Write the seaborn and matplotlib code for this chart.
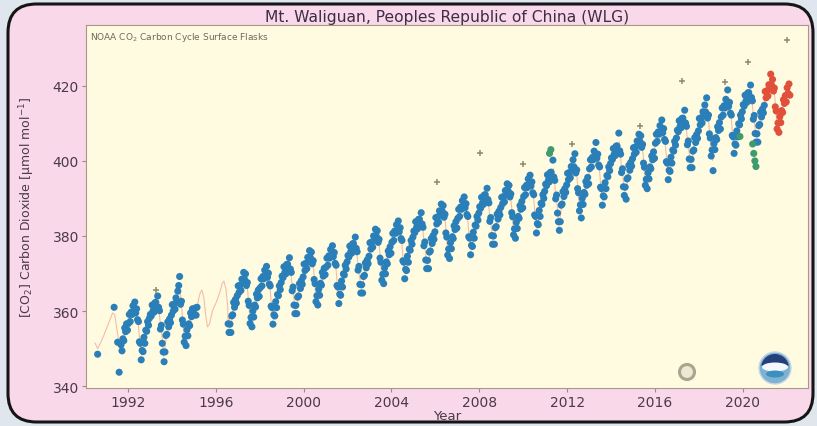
import numpy as np
import pandas as pd
import matplotlib
matplotlib.use("Agg")
import matplotlib.pyplot as plt
from matplotlib.patches import FancyBboxPatch, Circle, Wedge, Ellipse
from matplotlib.transforms import IdentityTransform
import seaborn as sns

# ---------------------------------------------------------------------------
# Mt. Waliguan (WLG) flask CO2, ppm.  Two samples per month (Jan..Dec);
# partial years give their first half-month slot in `start_slot`.
# ---------------------------------------------------------------------------
y1991 = [351.0, 349.4, 352.6, 352.1, 355.5, 354.5, 356.6, 354.9]
y1992 = [356.7, 359.1, 357.2, 359.7, 359.1, 361.4, 359.8, 362.4, 359.5, 360.6, 357.7, 357.2,
         351.8, 351.4, 347.0, 349.5, 349.2, 353.0, 351.4, 354.9, 354.6, 357.2, 356.2, 358.1]
y1993 = [359.1, 358.7, 361.6, 360.1, 359.7, 362.2, 362.3, 361.1, 364.0, 361.0, 360.1, 355.2,
         356.2, 351.4, 349.1, 346.5, 349.1, 353.5, 353.8, 357.1, 355.8, 357.9, 356.9, 358.9]
y1994 = [361.7, 360.0, 361.9, 360.5, 363.5, 362.4, 365.3, 366.8, 369.2, 361.8, 362.6, 357.6,
         356.5, 351.7, 353.3, 350.8, 355.0, 353.4, 356.6, 356.1, 359.5, 358.5, 360.6, 358.9]
y1995 = [359.2, 360.8, 358.9, 361.0]
y1996 = [356.6, 354.3, 356.5, 354.3, 358.7, 359.0, 362.3, 361.0, 363.1, 362.1, 364.1]
y1997 = [366.7, 365.0, 366.9, 365.5, 368.5, 367.4, 370.3, 368.4, 369.9, 366.8, 367.6, 362.6,
         361.5, 356.7, 358.3, 355.8, 360.0, 358.4, 361.6, 361.1, 364.5, 363.5, 365.6, 363.9]
y1998 = [366.2, 368.6, 366.7, 369.2, 368.6, 370.9, 369.3, 371.9, 369.0, 370.1, 367.2, 366.7,
         361.3, 360.9, 356.5, 359.0, 358.7, 362.5, 360.9, 364.4, 364.1, 366.7, 365.7, 367.6]
y1999 = [369.3, 368.9, 371.8, 370.3, 369.9, 372.4, 372.5, 371.3, 374.2, 371.2, 370.3, 365.4,
         366.4, 361.6, 359.3, 361.5, 359.3, 363.7, 364.0, 367.3, 366.0, 368.1, 367.1, 369.1]
y2000 = [372.5, 370.8, 372.7, 371.3, 374.3, 373.2, 376.1, 374.2, 375.7, 372.6, 373.4, 368.4,
         367.3, 362.5, 364.1, 361.6, 365.8, 364.2, 367.4, 366.9, 370.3, 369.3, 371.4, 369.7]
y2001 = [371.7, 374.1, 372.2, 374.7, 374.1, 376.4, 374.8, 377.4, 374.5, 375.6, 372.7, 372.2,
         366.8, 366.4, 362.0, 364.5, 364.2, 368.0, 366.4, 369.9, 369.6, 372.2, 371.2, 373.1]
y2002 = [374.8, 374.4, 377.3, 375.8, 375.4, 377.9, 378.0, 376.8, 379.7, 376.7, 375.8, 370.9,
         371.9, 367.1, 364.8, 367.0, 364.8, 369.2, 369.5, 372.8, 371.5, 373.6, 372.6, 374.6]
y2003 = [378.2, 376.5, 378.4, 377.0, 380.0, 378.9, 381.8, 379.9, 381.4, 378.3, 379.1, 374.1,
         373.0, 368.2, 369.8, 367.3, 371.5, 369.9, 373.1, 372.6, 376.0, 375.0, 377.1, 375.4]
y2004 = [378.3, 380.7, 378.8, 381.3, 380.7, 383.0, 381.4, 384.0, 381.1, 382.2, 379.3, 378.8,
         373.4, 373.0, 368.6, 371.1, 370.8, 374.6, 373.0, 376.5, 376.2, 378.8, 377.8, 379.7]
y2005 = [381.3, 380.9, 383.8, 382.3, 381.9, 384.4, 384.5, 383.3, 386.2, 383.2, 382.3, 377.4,
         378.4, 373.6, 371.3, 373.5, 371.3, 375.7, 376.0, 379.3, 378.0, 380.1, 379.1, 381.1]
y2006 = [384.9, 383.2, 385.1, 383.7, 386.7, 385.6, 388.5, 386.6, 388.1, 385.0, 385.8, 380.8,
         379.7, 374.9, 376.5, 374.0, 378.2, 376.6, 379.8, 379.3, 382.7, 381.7, 383.8, 382.1]
y2007 = [384.7, 387.1, 385.2, 387.7, 387.1, 389.4, 387.8, 390.4, 387.5, 388.6, 385.7, 385.2,
         379.8, 379.4, 375.0, 377.5, 377.2, 381.0, 379.4, 382.9, 382.6, 385.2, 384.2, 386.1]
y2008 = [387.8, 387.4, 390.3, 388.8, 388.4, 390.9, 391.0, 389.8, 392.7, 389.7, 388.8, 383.9,
         384.9, 380.1, 377.8, 380.0, 377.8, 382.2, 382.5, 385.8, 384.5, 386.6, 385.6, 387.6]
y2009 = [390.3, 388.6, 390.5, 389.1, 392.1, 391.0, 393.9, 392.0, 393.5, 390.4, 391.2, 386.2,
         385.1, 380.3, 381.9, 379.4, 383.6, 382.0, 385.2, 384.7, 388.1, 387.1, 389.2, 387.5]
y2010 = [390.5, 392.9, 391.0, 393.5, 392.9, 395.2, 393.6, 396.2, 393.3, 394.4, 391.5, 391.0,
         385.6, 385.2, 380.8, 383.3, 383.0, 386.8, 385.2, 388.7, 388.4, 391.0, 390.0, 391.9]
y2011 = [393.8, 393.4, 396.3, 394.8, 394.4, 396.9, 397.0, 395.8, 400.2, 395.7, 394.8, 389.9,
         390.9, 386.1, 383.8, 381.5, 383.8, 388.2, 388.5, 391.8, 390.5, 392.6, 391.6, 393.6]
y2012 = [396.7, 395.0, 396.9, 395.5, 398.5, 397.4, 400.3, 398.4, 401.9, 396.8, 397.6, 392.6,
         391.5, 386.7, 388.3, 384.8, 390.0, 388.4, 391.6, 391.1, 394.5, 393.5, 395.6, 393.9]
y2013 = [397.9, 400.3, 398.4, 400.9, 400.3, 402.6, 401.0, 404.9, 400.7, 401.8, 398.9, 398.4,
         393.0, 392.6, 388.2, 390.7, 390.4, 394.2, 392.6, 396.1, 395.8, 398.4, 397.4, 399.3]
y2014 = [400.8, 400.4, 403.3, 401.8, 401.4, 403.9, 404.0, 402.8, 407.4, 402.7, 401.8, 396.9,
         397.9, 393.1, 390.8, 393.0, 389.8, 395.2, 395.5, 398.8, 397.5, 399.6, 398.6, 400.6]
y2015 = [403.5, 401.8, 403.7, 402.3, 405.3, 404.2, 407.1, 405.2, 406.7, 403.6, 404.4, 399.4,
         398.3, 393.5, 395.1, 392.6, 396.8, 395.2, 398.4, 397.9, 401.3, 400.3, 402.4, 400.7]
y2016 = [404.7, 407.1, 405.2, 407.7, 407.1, 409.4, 407.8, 410.9, 407.5, 408.6, 405.7, 405.2,
         399.8, 399.4, 395.0, 397.5, 397.2, 401.0, 399.4, 402.9, 402.6, 405.2, 404.2, 406.1]
y2017 = [408.2, 407.8, 410.7, 409.2, 408.8, 411.3, 411.4, 410.2, 413.5, 410.1, 409.2, 404.3,
         405.3, 400.5, 398.2, 400.4, 398.2, 402.6, 402.9, 406.2, 404.9, 407.0, 406.0, 408.0]
y2018 = [411.3, 409.6, 411.5, 410.1, 413.1, 412.0, 414.9, 413.0, 416.8, 411.4, 412.2, 407.2,
         406.1, 401.3, 402.9, 397.4, 404.6, 403.0, 406.2, 405.7, 409.1, 408.1, 410.2, 408.5]
y2019 = [411.7, 414.1, 412.2, 414.7, 414.1, 416.4, 414.8, 418.9, 414.5, 415.6, 412.7, 412.2,
         406.8, 406.4, 402.0, 404.5, 404.2, 408.0, 406.4, 409.9, 409.6, 412.2, 411.2, 413.1]
y2020 = [415.0, 414.6, 417.5, 416.0, 415.6, 418.1, 418.2, 417.0, 420.2, 416.9, 416.0, 411.1,
         412.1, 407.3, 405.0, 407.2, 405.0, 409.4, 409.7, 413.0, 411.7, 413.8, 412.8, 414.8]
# preliminary samples
y2021 = [418.5, 416.8, 418.7, 417.3, 420.3, 419.2, 423.1, 420.2, 421.7, 418.6, 419.4, 414.4,
         413.3, 408.5, 410.1, 407.6, 411.8, 410.2, 413.4, 412.9, 416.3, 415.3, 417.4, 415.7]
y2022 = [419.5, 418.0, 420.5, 417.5]

start_slot = {1991: 16, 1996: 13}

# first, sparse samples of the record
early_dates = [1990.62, 1991.37, 1991.53, 1991.60]
early_vals = [348.5, 361.0, 351.7, 343.7]

# samples flagged by the selection algorithm
flag_dates = [2011.20, 2011.26, 2019.87, 2020.45, 2020.50, 2020.55, 2020.60]
flag_vals = [402.0, 403.0, 406.5, 404.5, 402.0, 400.0, 398.5]

# rejected samples
rej_dates = [1993.28, 2006.06, 2008.03, 2010.00, 2012.20, 2015.32, 2017.22, 2019.19, 2020.25, 2022.00]
rej_vals = [365.5, 394.4, 402.0, 399.2, 404.5, 409.4, 421.3, 421.0, 426.3, 432.1]

# smooth curve where no samples cover it (start of record and 1995-96 gap)
curve_early_dates = [1990.50, 1990.62, 1990.75, 1990.90, 1991.00, 1991.10, 1991.20, 1991.30, 1991.40, 1991.50, 1991.60, 1991.70]
curve_early_vals = [351.5, 350.0, 351.5, 353.5, 355.0, 356.5, 358.0, 359.5, 359.0, 355.0, 351.5, 351.0]
curve_gap_dates = [1995.04, 1995.12, 1995.21, 1995.29, 1995.37, 1995.46, 1995.54, 1995.62, 1995.71, 1995.79,
                   1995.87, 1995.96, 1996.04, 1996.12, 1996.21, 1996.29, 1996.37, 1996.46, 1996.54, 1996.62]
curve_gap_vals = [360.2, 361.5, 363.0, 364.8, 365.6, 363.5, 359.0, 355.8, 356.4, 358.6,
                  360.4, 361.5, 362.6, 364.0, 365.5, 367.3, 368.0, 366.0, 361.5, 358.6]

year_lists = {
    1991: y1991, 1992: y1992, 1993: y1993, 1994: y1994, 1995: y1995, 1996: y1996,
    1997: y1997, 1998: y1998, 1999: y1999, 2000: y2000, 2001: y2001, 2002: y2002,
    2003: y2003, 2004: y2004, 2005: y2005, 2006: y2006, 2007: y2007, 2008: y2008,
    2009: y2009, 2010: y2010, 2011: y2011, 2012: y2012, 2013: y2013, 2014: y2014,
    2015: y2015, 2016: y2016, 2017: y2017, 2018: y2018, 2019: y2019, 2020: y2020,
    2021: y2021, 2022: y2022,
}

rows = []
for d, v in zip(early_dates, early_vals):
    rows.append((d, v, "retained"))
for yr, vals in year_lists.items():
    s0 = start_slot.get(yr, 0)
    status = "preliminary" if yr >= 2021 else "retained"
    for k, v in enumerate(vals):
        rows.append((yr + (s0 + k + 0.5) / 24.0, v, status))
for d, v in zip(flag_dates, flag_vals):
    rows.append((d, v, "flagged"))
df = pd.DataFrame(rows, columns=["year", "co2", "status"])

# curve: monthly means of the samples, plus the unsampled stretches
samples = df[df.status != "flagged"].copy()
samples["month"] = np.floor(samples["year"] * 12)
monthly = samples.groupby("month", as_index=False).agg(year=("year", "mean"), co2=("co2", "mean"))
curve = pd.concat([
    pd.DataFrame({"year": curve_early_dates, "co2": curve_early_vals}),
    monthly[monthly.year > 1991.72][["year", "co2"]],
    pd.DataFrame({"year": curve_gap_dates, "co2": curve_gap_vals}),
]).sort_values("year")

rej = pd.DataFrame({"year": rej_dates, "co2": rej_vals})

# ---------------------------------------------------------------------------
sns.set_theme(style="ticks")
plt.rcParams["font.family"] = ["DejaVu Sans"]

W, H = 817, 427
fig = plt.figure(figsize=(W / 100, H / 100), dpi=100)
fig.patch.set_facecolor("#dfe6ee")

panel = FancyBboxPatch((8 / W, 4 / H), 805 / W, 418 / H,
                       boxstyle="round,pad=0,rounding_size=0.035",
                       transform=fig.transFigure, facecolor="#f9d8ea",
                       edgecolor="#151515", linewidth=2.2, zorder=-10, mutation_aspect=W / H)
fig.patches.append(panel)

ax = fig.add_axes([86 / W, 38 / H, 722 / W, 363 / H])
ax.set_zorder(1)
ax.set_facecolor("#fffbe0")

sns.lineplot(data=curve, x="year", y="co2", ax=ax, color="#f2bda6", linewidth=0.8,
             sort=False, estimator=None, zorder=1)
palette = {"retained": "#2b7fb8", "preliminary": "#e0503a", "flagged": "#3f9a6e"}
sns.scatterplot(data=df, x="year", y="co2", hue="status", palette=palette, ax=ax,
                s=26, linewidth=0, legend=False, zorder=2)
sns.scatterplot(data=rej, x="year", y="co2", ax=ax, marker="+", s=22,
                color="#8d8a6e", linewidth=1.1, legend=False, zorder=3)

ax.set_xlim(1990.09, 2022.97)
ax.set_ylim(339.5, 436.2)
ax.set_xticks([1992, 1996, 2000, 2004, 2008, 2012, 2016, 2020])
ax.set_yticks([340, 360, 380, 400, 420])
ax.tick_params(axis="both", labelsize=10, colors="#9a8a8a", labelcolor="#4a3a4a",
               length=3, width=0.8, pad=2)
for sp in ax.spines.values():
    sp.set_color("#a89888")
    sp.set_linewidth(0.8)

ax.set_xlabel("Year", fontsize=9.5, color="#4a3a4a", labelpad=0)
ax.set_ylabel("[CO$_2$] Carbon Dioxide [\u03bcmol mol$^{-1}$]", fontsize=9,
              color="#4a3a4a", labelpad=11)
ax.set_title("Mt. Waliguan, Peoples Republic of China (WLG)", fontsize=11.2,
             color="#3d2d45", pad=3)
ax.text(0.006, 0.985, "NOAA CO$_2$ Carbon Cycle Surface Flasks", transform=ax.transAxes,
        fontsize=6.5, color="#6a6a60", va="top", ha="left")

# agency marks, bottom right
pix = IdentityTransform()
marks = [
    Circle((687, H - 373), 7.5, transform=pix, facecolor="#ebe8d4",
           edgecolor="#a9a68e", linewidth=2.2, zorder=5),
    Circle((775, H - 369), 16, transform=pix, facecolor="#7fb2d2",
           edgecolor="#c9d9e4", linewidth=1.0, zorder=5),
    Wedge((775, H - 369), 14, 10, 170, transform=pix, facecolor="#24417c",
          edgecolor="none", zorder=6),
    Ellipse((775, H - 368), 26, 9, transform=pix, facecolor="#f4f8fb",
            edgecolor="none", zorder=7),
    Ellipse((775, H - 375), 18, 7, transform=pix, facecolor="#3d8fbf",
            edgecolor="none", zorder=7),
]
for m in marks:
    fig.patches.append(m)

fig.savefig("out.png", dpi=100, facecolor=fig.get_facecolor())
